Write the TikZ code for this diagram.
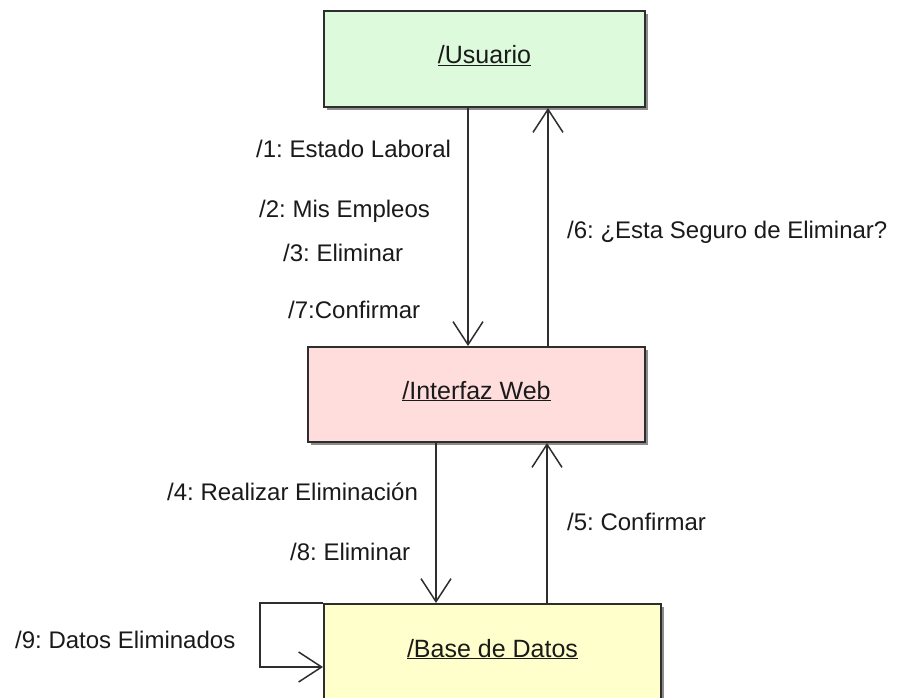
\documentclass[tikz,border=0pt]{standalone}
\usepackage{fontspec}
\setmainfont{Liberation Sans}
\usetikzlibrary{arrows.meta,shadows}
\definecolor{usrfill}{HTML}{DDFADD}
\definecolor{webfill}{HTML}{FFDDDD}
\definecolor{dbfill}{HTML}{FFFFCC}
\definecolor{ink}{HTML}{1A1A1A}
\definecolor{edge}{HTML}{2E2E2E}
\frenchspacing
\begin{document}
\begin{tikzpicture}[x=1pt,y=-1pt,
  box/.style={draw=edge,line width=2pt,inner sep=0pt,anchor=north west,
    text=ink,font=\fontsize{25}{30}\selectfont\frenchspacing,
    text height=18pt,text depth=9pt,
    drop shadow={shadow xshift=3pt,shadow yshift=-3pt,fill=black!45,opacity=1}},
  lbl/.style={inner sep=0pt,anchor=west,text=ink,font=\fontsize{24}{29}\selectfont\frenchspacing,
    text height=17pt,text depth=0pt},
  msg/.style={draw=edge,line width=1.5pt,-{Straight Barb[length=23pt,width=30pt,line width=1.5pt]}}
]
\useasboundingbox (0,0) rectangle (899,698);
\clip (0,0) rectangle (899,698);
\fill[white] (0,0) rectangle (899,698);

% boxes
\node[box,fill=usrfill,minimum width=321pt,minimum height=96pt] (usuario) at (323,10) {\underline{/Usuario}};
\node[box,fill=webfill,minimum width=337pt,minimum height=95pt] (web) at (307,346) {\underline{/Interfaz Web}};
\node[box,fill=dbfill,minimum width=337pt,minimum height=97pt] (db) at (323,603) {\underline{/Base de Datos}};

% connectors
\draw[msg] (468,0 |- usuario.south) -- (468,0 |- web.north);
\draw[msg] (548,0 |- web.north) -- (548,0 |- usuario.south);
\draw[msg] (436,0 |- web.south) -- (436,0 |- db.north);
\draw[msg] (547,0 |- db.north) -- (547,0 |- web.south);
\coordinate (loopend) at ([yshift=-64pt]db.north west);
\draw[msg] (db.north west) -- (260,0 |- db.north west) -- (260,0 |- loopend) -- (loopend);

% labels
\node[lbl] (l1) at (256,149) {/1: Estado Laboral};
\node[lbl] (l2) at (259,209) {/2: Mis Empleos};
\node[lbl] (l3) at (283,253) {/3: Eliminar};
\node[lbl] (l7) at (288,310) {/7:Confirmar};
\node[lbl] (l6) at (567,230) {/6: ¿Esta Seguro de Eliminar?};
\node[lbl] (l4) at (167,492) {/4: Realizar Eliminación};
\node[lbl] (l8) at (290,552) {/8: Eliminar};
\node[lbl] (l5) at (567,522) {/5: Confirmar};
\node[lbl] (l9) at (15,640) {/9: Datos Eliminados};
\end{tikzpicture}
\end{document}
